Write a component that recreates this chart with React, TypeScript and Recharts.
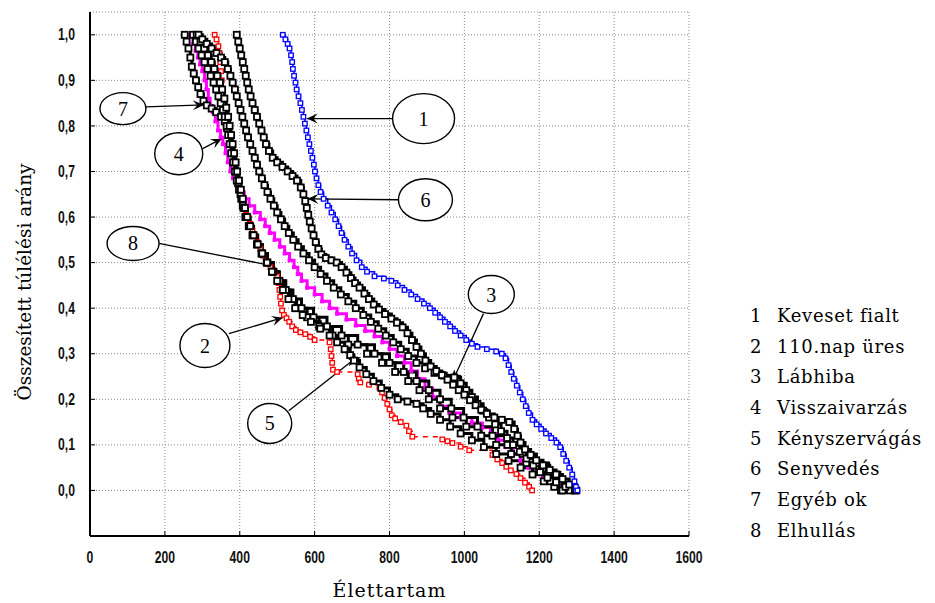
import { LineChart, Line, XAxis, YAxis, CartesianGrid, ReferenceDot, ReferenceLine } from "recharts"

type Pt = [number, number]

const xTicks = [0, 200, 400, 600, 800, 1000, 1200, 1400, 1600]
const yTicks = [0, 0.1, 0.2, 0.3, 0.4, 0.5, 0.6, 0.7, 0.8, 0.9, 1.0]

// 1 Keveset fialt
const kevesetFialt: Pt[] = [
  [515, 1.0], [522, 0.99], [528, 0.98], [533, 0.97], [537, 0.955], [540, 0.94], [542, 0.925], [545, 0.91],
  [549, 0.895], [552, 0.88], [557, 0.865], [562, 0.85], [566, 0.835], [570, 0.82], [574, 0.805], [578, 0.79],
  [582, 0.775], [586, 0.76], [590, 0.745], [594, 0.73], [598, 0.715], [601, 0.7], [605, 0.685], [610, 0.67],
  [616, 0.655], [624, 0.64], [635, 0.625], [645, 0.61], [655, 0.595], [664, 0.58], [672, 0.565], [680, 0.55],
  [690, 0.535], [700, 0.52], [712, 0.505], [726, 0.49], [740, 0.48], [760, 0.47], [785, 0.465], [805, 0.46],
  [822, 0.45], [840, 0.44], [858, 0.43], [875, 0.42], [892, 0.41], [908, 0.4], [922, 0.39], [935, 0.38],
  [948, 0.37], [962, 0.36], [975, 0.35], [990, 0.34], [1005, 0.33], [1020, 0.322], [1035, 0.315], [1060, 0.31],
  [1085, 0.305], [1100, 0.3], [1110, 0.29], [1118, 0.275], [1125, 0.26], [1132, 0.245], [1140, 0.23], [1148, 0.215],
  [1156, 0.2], [1164, 0.185], [1172, 0.17], [1182, 0.155], [1193, 0.145], [1205, 0.135], [1218, 0.125], [1232, 0.115],
  [1246, 0.105], [1256, 0.095], [1264, 0.08], [1272, 0.065], [1280, 0.05], [1288, 0.035], [1294, 0.02], [1298, 0.008],
  [1302, 0],
]

// 2 110.nap üres
const napUres: Pt[] = [
  [333, 1.0], [338, 0.99], [343, 0.975], [346, 0.96], [348, 0.94], [350, 0.92], [352, 0.9], [355, 0.88],
  [358, 0.86], [362, 0.84], [366, 0.82], [370, 0.8], [374, 0.78], [378, 0.76], [382, 0.74], [386, 0.72],
  [390, 0.7], [395, 0.68], [400, 0.66], [405, 0.645], [410, 0.63], [416, 0.615], [422, 0.6], [428, 0.585],
  [434, 0.57], [440, 0.56], [447, 0.545], [455, 0.53], [463, 0.515], [472, 0.5], [482, 0.49], [493, 0.48],
  [500, 0.47], [504, 0.455], [506, 0.44], [508, 0.425], [510, 0.41], [513, 0.395], [518, 0.385], [525, 0.378],
  [532, 0.37], [540, 0.36], [550, 0.352], [562, 0.347], [575, 0.343], [588, 0.337], [600, 0.33], [640, 0.325],
  [643, 0.31], [645, 0.295], [647, 0.28], [649, 0.265], [660, 0.26], [715, 0.255], [718, 0.245], [722, 0.237],
  [745, 0.232], [773, 0.226], [780, 0.215], [787, 0.203], [794, 0.19], [800, 0.178], [806, 0.165], [815, 0.158],
  [830, 0.15], [845, 0.142], [852, 0.13], [861, 0.118], [941, 0.112], [955, 0.108], [968, 0.104], [990, 0.096],
  [1013, 0.088], [1075, 0.078], [1088, 0.068], [1101, 0.06], [1112, 0.052], [1124, 0.044], [1139, 0.036],
  [1150, 0.027], [1162, 0.017], [1173, 0.008], [1181, 0],
]

// 3 Lábhiba
const labhiba: Pt[] = [
  [290, 1.0], [300, 0.99], [312, 0.98], [325, 0.97], [338, 0.96], [350, 0.95], [360, 0.94], [368, 0.925],
  [375, 0.91], [381, 0.895], [387, 0.88], [392, 0.865], [397, 0.85], [402, 0.835], [407, 0.82], [412, 0.805],
  [417, 0.79], [422, 0.775], [428, 0.76], [434, 0.745], [440, 0.73], [446, 0.715], [452, 0.7], [459, 0.685],
  [466, 0.67], [474, 0.655], [482, 0.64], [491, 0.625], [500, 0.61], [510, 0.595], [520, 0.58], [531, 0.565],
  [543, 0.55], [556, 0.535], [570, 0.52], [585, 0.505], [600, 0.49], [616, 0.475], [633, 0.46], [651, 0.445],
  [670, 0.43], [690, 0.415], [710, 0.4], [730, 0.385], [750, 0.37], [770, 0.355], [790, 0.34], [810, 0.325],
  [830, 0.31], [850, 0.295], [872, 0.28], [895, 0.268], [920, 0.258], [945, 0.252], [973, 0.248], [990, 0.235],
  [1005, 0.22], [1020, 0.205], [1035, 0.19], [1050, 0.175], [1066, 0.16], [1082, 0.145], [1098, 0.13],
  [1114, 0.115], [1130, 0.1], [1148, 0.085], [1166, 0.07], [1184, 0.055], [1202, 0.04], [1222, 0.028],
  [1245, 0.018], [1270, 0.008], [1295, 0],
]

// 4 Visszaivarzás
const visszaivarzas: Pt[] = [
  [267, 1.0], [275, 0.98], [282, 0.965], [288, 0.95], [294, 0.935], [300, 0.92], [306, 0.9], [311, 0.88],
  [316, 0.86], [321, 0.845], [328, 0.83], [335, 0.81], [342, 0.79], [349, 0.775], [355, 0.76], [362, 0.74],
  [368, 0.72], [375, 0.7], [382, 0.685], [390, 0.67], [400, 0.655], [412, 0.64], [425, 0.625], [440, 0.61],
  [455, 0.595], [468, 0.58], [480, 0.565], [493, 0.55], [507, 0.535], [520, 0.52], [533, 0.505], [545, 0.49],
  [555, 0.475], [565, 0.46], [580, 0.445], [600, 0.43], [620, 0.415], [640, 0.4], [660, 0.388], [685, 0.375],
  [710, 0.362], [735, 0.35], [760, 0.338], [781, 0.325], [800, 0.31], [820, 0.295], [840, 0.28], [858, 0.262],
  [875, 0.245], [895, 0.225], [915, 0.205], [935, 0.185], [960, 0.17], [990, 0.16], [1020, 0.148], [1048, 0.138],
  [1070, 0.125], [1090, 0.11], [1110, 0.095], [1130, 0.08], [1150, 0.065], [1170, 0.05], [1190, 0.038],
  [1210, 0.028], [1235, 0.018], [1258, 0.008], [1280, 0],
]

// 5 Kényszervágás
const kenyszervagas: Pt[] = [
  [285, 1.0], [295, 0.985], [305, 0.97], [315, 0.955], [324, 0.94], [332, 0.925], [340, 0.91], [347, 0.895],
  [353, 0.88], [359, 0.86], [364, 0.84], [369, 0.82], [373, 0.8], [377, 0.78], [381, 0.76], [385, 0.74],
  [389, 0.72], [393, 0.7], [398, 0.68], [403, 0.66], [408, 0.64], [414, 0.62], [420, 0.6], [428, 0.58],
  [437, 0.56], [448, 0.54], [460, 0.52], [473, 0.5], [486, 0.48], [500, 0.46], [515, 0.44], [530, 0.42],
  [548, 0.4], [568, 0.385], [590, 0.37], [615, 0.355], [640, 0.34], [660, 0.325], [680, 0.31], [695, 0.297],
  [705, 0.285], [720, 0.27], [738, 0.255], [757, 0.24], [778, 0.225], [800, 0.21], [822, 0.2], [848, 0.195],
  [872, 0.19], [890, 0.18], [910, 0.168], [935, 0.155], [962, 0.14], [990, 0.125], [1020, 0.11], [1052, 0.095],
  [1085, 0.08], [1118, 0.065], [1150, 0.05], [1182, 0.035], [1212, 0.02], [1240, 0.008], [1262, 0],
]

// 6 Senyvedés
const senyvedes: Pt[] = [
  [392, 1.0], [396, 0.985], [400, 0.97], [404, 0.955], [408, 0.94], [412, 0.925], [416, 0.91], [420, 0.895],
  [424, 0.88], [429, 0.865], [434, 0.85], [440, 0.835], [446, 0.82], [452, 0.805], [458, 0.79], [464, 0.775],
  [470, 0.76], [478, 0.745], [488, 0.73], [500, 0.72], [514, 0.71], [528, 0.7], [541, 0.69], [553, 0.68],
  [563, 0.665], [570, 0.65], [575, 0.635], [579, 0.62], [583, 0.605], [587, 0.59], [592, 0.575], [597, 0.56],
  [603, 0.545], [610, 0.53], [618, 0.518], [630, 0.51], [645, 0.505], [659, 0.5], [672, 0.49], [685, 0.478],
  [697, 0.466], [708, 0.455], [720, 0.445], [733, 0.432], [745, 0.42], [758, 0.408], [772, 0.397], [788, 0.387],
  [805, 0.377], [820, 0.368], [835, 0.358], [848, 0.345], [860, 0.33], [872, 0.315], [884, 0.3], [896, 0.285],
  [910, 0.272], [925, 0.262], [940, 0.253], [955, 0.243], [970, 0.232], [985, 0.22], [1000, 0.21], [1015, 0.198],
  [1030, 0.187], [1045, 0.177], [1060, 0.168], [1080, 0.16], [1100, 0.155], [1120, 0.15], [1133, 0.135],
  [1142, 0.12], [1150, 0.105], [1162, 0.09], [1177, 0.078], [1192, 0.066], [1210, 0.055], [1228, 0.045],
  [1245, 0.035], [1262, 0.025], [1280, 0.013], [1299, 0],
]

// 7 Egyéb ok
const egyebOk: Pt[] = [
  [253, 1.0], [258, 0.985], [263, 0.97], [268, 0.95], [272, 0.93], [277, 0.915], [283, 0.9], [289, 0.885],
  [295, 0.87], [303, 0.855], [312, 0.845], [325, 0.838], [337, 0.83], [350, 0.82], [360, 0.81], [366, 0.795],
  [371, 0.78], [376, 0.76], [380, 0.74], [385, 0.72], [390, 0.7], [396, 0.675], [402, 0.65], [408, 0.625],
  [415, 0.6], [424, 0.58], [434, 0.56], [446, 0.54], [458, 0.52], [472, 0.5], [487, 0.48], [502, 0.46],
  [518, 0.44], [535, 0.42], [552, 0.4], [580, 0.38], [612, 0.36], [648, 0.34], [690, 0.32], [740, 0.3],
  [780, 0.28], [815, 0.26], [850, 0.24], [880, 0.22], [905, 0.2], [935, 0.18], [968, 0.16], [1005, 0.14],
  [1045, 0.12], [1085, 0.1], [1125, 0.08], [1165, 0.06], [1200, 0.04], [1230, 0.02], [1245, 0.01], [1258, 0],
]

// 8 Elhullás
const elhullas: Pt[] = [
  [275, 1.0], [283, 0.985], [290, 0.97], [298, 0.955], [306, 0.94], [314, 0.925], [322, 0.91], [330, 0.895],
  [337, 0.88], [343, 0.865], [349, 0.85], [355, 0.835], [360, 0.82], [365, 0.8], [369, 0.78], [373, 0.76],
  [377, 0.74], [382, 0.72], [387, 0.7], [392, 0.68], [398, 0.66], [404, 0.64], [410, 0.62], [417, 0.6],
  [425, 0.58], [435, 0.56], [447, 0.54], [460, 0.52], [474, 0.5], [490, 0.48], [506, 0.46], [523, 0.44],
  [542, 0.42], [565, 0.4], [597, 0.38], [633, 0.36], [672, 0.34], [715, 0.32], [760, 0.3], [800, 0.28],
  [838, 0.26], [872, 0.24], [905, 0.22], [935, 0.2], [965, 0.18], [998, 0.16], [1035, 0.14], [1075, 0.12],
  [1115, 0.1], [1155, 0.08], [1192, 0.06], [1225, 0.04], [1255, 0.02], [1268, 0.01], [1282, 0],
]

const legendItems = [
  "Keveset fialt",
  "110.nap üres",
  "Lábhiba",
  "Visszaivarzás",
  "Kényszervágás",
  "Senyvedés",
  "Egyéb ok",
  "Elhullás",
]

// numbered bubbles: centre, line start and pointer tip in data units
const callouts = [
  { label: "1", at: [891, 0.816], from: [808, 0.816], to: [579, 0.816], rx: 31, ry: 25, head: "arrow" },
  { label: "6", at: [896, 0.638], from: [824, 0.638], to: [581, 0.64], rx: 27, ry: 21, head: "arrow" },
  { label: "7", at: [88, 0.838], from: [149, 0.842], to: [304, 0.846], rx: 23, ry: 16, head: "arrow" },
  { label: "4", at: [237, 0.739], from: [301, 0.75], to: [352, 0.772], rx: 24, ry: 21, head: "arrow" },
  { label: "8", at: [115, 0.542], from: [184, 0.542], to: [488, 0.493], rx: 26, ry: 17, head: "none" },
  { label: "2", at: [307, 0.318], from: [371, 0.344], to: [515, 0.379], rx: 25, ry: 22, head: "arrow" },
  { label: "5", at: [480, 0.147], from: [531, 0.175], to: [704, 0.287], rx: 22, ry: 20, head: "star" },
  { label: "3", at: [1072, 0.43], from: [1051, 0.388], to: [973, 0.248], rx: 23, ry: 19, head: "star" },
]

const toRows = (pts: Pt[]) => pts.map(([x, y]) => ({ x, y }))

const series = [
  { key: "2", data: napUres, color: "#ff0000", width: 1.5, dash: "5 5", size: 4.5, edge: 1.3, fill: "#fff" },
  { key: "4", data: visszaivarzas, color: "#ff00ff", width: 3, dash: undefined, size: 3, edge: 1, fill: "#ff00ff" },
  { key: "7", data: egyebOk, color: "#000", width: 3, dash: undefined, size: 6, edge: 1.8, fill: "#fff" },
  { key: "8", data: elhullas, color: "#000", width: 3, dash: undefined, size: 6, edge: 1.8, fill: "#fff" },
  { key: "5", data: kenyszervagas, color: "#000", width: 3, dash: undefined, size: 6, edge: 1.8, fill: "#fff" },
  { key: "3", data: labhiba, color: "#000", width: 3, dash: undefined, size: 6, edge: 1.8, fill: "#fff" },
  { key: "6", data: senyvedes, color: "#000", width: 3, dash: undefined, size: 6, edge: 1.8, fill: "#fff" },
  { key: "1", data: kevesetFialt, color: "#0000ff", width: 1.5, dash: undefined, size: 4.5, edge: 1.3, fill: "#fff" },
]

const tickFont = "'Liberation Sans', Arial, sans-serif"
const serif = "'DejaVu Serif', 'Liberation Serif', serif"

const squareDot = (color: string, size: number, edge: number, fill: string) => (p: any) => {
  if (p.cx == null || p.cy == null) return <g key={p.key ?? p.index} />
  return (
    <rect
      key={p.key ?? p.index}
      x={p.cx - size / 2}
      y={p.cy - size / 2}
      width={size}
      height={size}
      fill={fill}
      stroke={color}
      strokeWidth={edge}
    />
  )
}

const XTick = ({ x, y, payload }: any) => (
  <text
    transform={`translate(${x},${y}) scale(0.76,1)`}
    textAnchor="middle"
    dy="0.35em"
    fontFamily={tickFont}
    fontSize={16}
    fontWeight={700}
    fill="#111"
  >
    {payload.value}
  </text>
)

const YTick = ({ x, y, payload }: any) => (
  <text
    transform={`translate(${x},${y}) scale(0.76,1)`}
    textAnchor="end"
    dy="0.35em"
    fontFamily={tickFont}
    fontSize={16}
    fontWeight={700}
    fill="#111"
  >
    {Number(payload.value).toFixed(1).replace(".", ",")}
  </text>
)

const star = (cx: number, cy: number, r: number) => {
  const pts: string[] = []
  for (let i = 0; i < 10; i++) {
    const a = -Math.PI / 2 + (i * Math.PI) / 5
    const rr = i % 2 === 0 ? r : r * 0.4
    pts.push(`${cx + rr * Math.cos(a)},${cy + rr * Math.sin(a)}`)
  }
  return pts.join(" ")
}

const Pointer = ({ x1, y1, x2, y2, head }: any) => {
  if ([x1, y1, x2, y2].some((v) => v == null)) return <g />
  const ang = Math.atan2(y2 - y1, x2 - x1)
  const len = 11
  const half = 5
  const bx = x2 - len * Math.cos(ang)
  const by = y2 - len * Math.sin(ang)
  const nx = -Math.sin(ang)
  const ny = Math.cos(ang)
  const notchX = x2 - len * 0.6 * Math.cos(ang)
  const notchY = y2 - len * 0.6 * Math.sin(ang)
  return (
    <g>
      <line x1={x1} y1={y1} x2={x2} y2={y2} stroke="#000" strokeWidth={1.3} />
      {head === "arrow" && (
        <polygon
          points={`${x2},${y2} ${bx + nx * half},${by + ny * half} ${notchX},${notchY} ${bx - nx * half},${by - ny * half}`}
          fill="#000"
        />
      )}
      {head === "star" && <polygon points={star(x2, y2, 8)} fill="#000" />}
    </g>
  )
}

export default function App() {
  return (
    <div style={{ position: "relative", width: 927, height: 595 }}>
      <LineChart width={927} height={595} margin={{ top: 4, right: 246, bottom: 0, left: 0 }}>
        <CartesianGrid stroke="#8a8a8a" strokeDasharray="1 2" />
        <XAxis
          xAxisId={0}
          dataKey="x"
          type="number"
          domain={[0, 1600]}
          ticks={xTicks}
          allowDataOverflow
          height={67}
          axisLine={{ stroke: "#000", strokeWidth: 2 }}
          tickLine={{ stroke: "#000" }}
          tickSize={-5}
          tickMargin={26}
          tick={<XTick />}
          label={{
            value: "Élettartam",
            position: "insideBottom",
            offset: 6,
            style: { fontFamily: serif, fontSize: 19, letterSpacing: 1, fill: "#000" },
          }}
        />
        <XAxis
          xAxisId="top"
          orientation="top"
          type="number"
          domain={[0, 1600]}
          ticks={xTicks}
          height={0}
          axisLine={{ stroke: "#000", strokeWidth: 2 }}
          tickLine={{ stroke: "#000" }}
          tickSize={-5}
          tick={false}
        />
        <YAxis
          yAxisId={0}
          type="number"
          domain={[-0.1, 1.05]}
          ticks={yTicks}
          allowDataOverflow
          width={82}
          axisLine={{ stroke: "#000", strokeWidth: 2 }}
          tickLine={{ stroke: "#000" }}
          tickSize={-5}
          tickMargin={20}
          tick={<YTick />}
          label={{
            value: "Összesített túlélési arány",
            angle: -90,
            position: "insideLeft",
            offset: 16,
            dy: 8,
            style: { textAnchor: "middle", fontFamily: serif, fontSize: 18.5, letterSpacing: 0, fill: "#000" },
          }}
        />
        <YAxis
          yAxisId="right"
          orientation="right"
          type="number"
          domain={[-0.1, 1.05]}
          ticks={yTicks}
          width={0}
          axisLine={{ stroke: "#000", strokeWidth: 2 }}
          tickLine={{ stroke: "#000" }}
          tickSize={-5}
          tick={false}
        />
        {series.map((s) => (
          <Line
            key={s.key}
            data={toRows(s.data)}
            dataKey="y"
            type="stepAfter"
            stroke={s.color}
            strokeWidth={s.width}
            strokeDasharray={s.dash}
            dot={squareDot(s.color, s.size, s.edge, s.fill)}
            activeDot={false}
            isAnimationActive={false}
          />
        ))}
        {callouts.map((c) => (
          <ReferenceLine
            key={`line-${c.label}`}
            segment={[
              { x: c.from[0], y: c.from[1] },
              { x: c.to[0], y: c.to[1] },
            ]}
            shape={(p: any) => <Pointer {...p} head={c.head} />}
          />
        ))}
        {callouts.map((c) => (
          <ReferenceDot
            key={`dot-${c.label}`}
            x={c.at[0]}
            y={c.at[1]}
            r={c.rx}
            shape={(p: any) => (
              <g>
                <ellipse cx={p.cx} cy={p.cy} rx={c.rx} ry={c.ry} fill="#fff" stroke="#000" strokeWidth={1.4} />
                <text
                  x={p.cx}
                  y={p.cy}
                  dy="0.35em"
                  textAnchor="middle"
                  fontFamily="'Liberation Serif', serif"
                  fontSize={20}
                  fill="#000"
                >
                  {c.label}
                </text>
              </g>
            )}
          />
        ))}
      </LineChart>
      <div
        style={{
          position: "absolute",
          left: 742,
          top: 293,
          fontFamily: serif,
          fontSize: 18,
          letterSpacing: 0.7,
          color: "#000",
        }}
      >
        {legendItems.map((name, i) => (
          <div key={name} style={{ height: 30.7, lineHeight: "30.7px", whiteSpace: "nowrap" }}>
            <span style={{ display: "inline-block", width: 27 }}>{i + 1}</span>
            {name}
          </div>
        ))}
      </div>
    </div>
  )
}
